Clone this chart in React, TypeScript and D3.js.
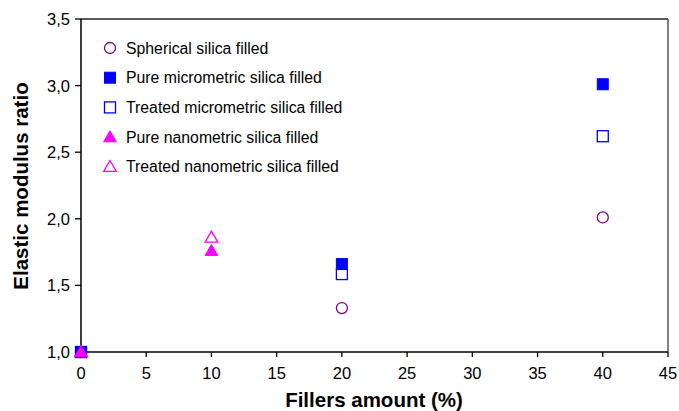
import * as d3 from 'd3';

const sphericalX = [0, 20, 40];
const sphericalY = [1.0, 1.33, 2.01];
const pureMicroX = [0, 20, 40];
const pureMicroY = [1.0, 1.66, 3.01];
const treatedMicroX = [0, 20, 40];
const treatedMicroY = [1.0, 1.585, 2.62];
const pureNanoX = [0, 10];
const pureNanoY = [1.0, 1.76];
const treatedNanoX = [0, 10];
const treatedNanoY = [1.0, 1.86];

const xTicks = [0, 5, 10, 15, 20, 25, 30, 35, 40, 45];
const yTicks = [1.0, 1.5, 2.0, 2.5, 3.0, 3.5];
const legendLabels = [
  'Spherical silica filled',
  'Pure micrometric silica filled',
  'Treated micrometric silica filled',
  'Pure nanometric silica filled',
  'Treated nanometric silica filled',
];

const W = 679;
const H = 411;
const m = { left: 81, right: 11, top: 19, bottom: 59 };
const font = 'Liberation Sans, Arial, sans-serif';

const PURPLE = '#800080';
const BLUE = '#0000ff';
const MAGENTA = '#ff00ff';

function Marker({ kind, x, y }: { kind: string; x: number; y: number }) {
  if (kind === 'circle')
    return <circle cx={x} cy={y} r={5.5} fill="white" stroke={PURPLE} strokeWidth={1.3} />;
  if (kind === 'fsquare')
    return <rect x={x - 5.5} y={y - 5.5} width={11} height={11} fill={BLUE} stroke={BLUE} strokeWidth={1} />;
  if (kind === 'osquare')
    return <rect x={x - 5.5} y={y - 5.5} width={11} height={11} fill="white" stroke={BLUE} strokeWidth={1.3} />;
  const tri = d3.symbol(d3.symbolTriangle, 70)() as string;
  if (kind === 'ftri')
    return <path d={tri} transform={`translate(${x},${y + 1})`} fill={MAGENTA} stroke={MAGENTA} strokeWidth={1} />;
  return <path d={tri} transform={`translate(${x},${y + 1})`} fill="white" stroke={MAGENTA} strokeWidth={1.3} />;
}

export default function App() {
  const x = d3.scaleLinear().domain([0, 45]).range([m.left, W - m.right]);
  const y = d3.scaleLinear().domain([1, 3.5]).range([H - m.bottom, m.top]);

  const series = [
    { kind: 'circle', xs: sphericalX, ys: sphericalY },
    { kind: 'fsquare', xs: pureMicroX, ys: pureMicroY },
    { kind: 'osquare', xs: treatedMicroX, ys: treatedMicroY },
    { kind: 'ftri', xs: pureNanoX, ys: pureNanoY },
    { kind: 'otri', xs: treatedNanoX, ys: treatedNanoY },
  ];
  // open markers underneath, filled ones on top (as at x = 0 in the original)
  const drawOrder = [0, 2, 4, 1, 3];

  const x0 = x(0);
  const x1 = x(45);
  const y0 = y(1);
  const y1 = y(3.5);

  return (
    <svg width={W} height={H} style={{ position: 'absolute', left: 0, top: 0, background: 'white' }}>
      {/* frame */}
      <line x1={x0} x2={x1} y1={y1} y2={y1} stroke="#222" strokeWidth={1.5} />
      <line x1={x1} x2={x1} y1={y1} y2={y0} stroke="#555" strokeWidth={1.5} />
      <line x1={x0} x2={x0} y1={y1} y2={y0} stroke="black" strokeWidth={1.5} />
      <line x1={x0} x2={x1} y1={y0} y2={y0} stroke="black" strokeWidth={1.5} />

      {xTicks.map((t) => (
        <g key={'x' + t}>
          <line x1={x(t)} x2={x(t)} y1={y0} y2={y0 + 5} stroke="black" strokeWidth={1.3} />
          <text x={x(t)} y={y0 + 27} textAnchor="middle" fontFamily={font} fontSize={16.5}>
            {t}
          </text>
        </g>
      ))}
      {yTicks.map((t) => (
        <g key={'y' + t}>
          <line x1={x0 - 6} x2={x0} y1={y(t)} y2={y(t)} stroke="black" strokeWidth={1.3} />
          <text x={x0 - 11} y={y(t) + 6} textAnchor="end" fontFamily={font} fontSize={16.5}>
            {d3.format('.1f')(t).replace('.', ',')}
          </text>
        </g>
      ))}

      <text x={374} y={H - 4} textAnchor="middle" fontFamily={font} fontSize={20.5} fontWeight="bold">
        Fillers amount (%)
      </text>
      <text
        transform={`translate(28,186) rotate(-90)`}
        textAnchor="middle"
        fontFamily={font}
        fontSize={20.5}
        fontWeight="bold"
      >
        Elastic modulus ratio
      </text>

      {drawOrder.map((si) => {
        const s = series[si];
        return s.xs.map((v, i) => <Marker key={s.kind + i} kind={s.kind} x={x(v)} y={y(s.ys[i])} />);
      })}

      {legendLabels.map((label, i) => (
        <g key={label} transform={`translate(0,${48 + i * 29.7})`}>
          <Marker kind={series[i].kind} x={110} y={0} />
          <text x={126} y={5.5} fontFamily={font} fontSize={15.8}>
            {label}
          </text>
        </g>
      ))}
    </svg>
  );
}
